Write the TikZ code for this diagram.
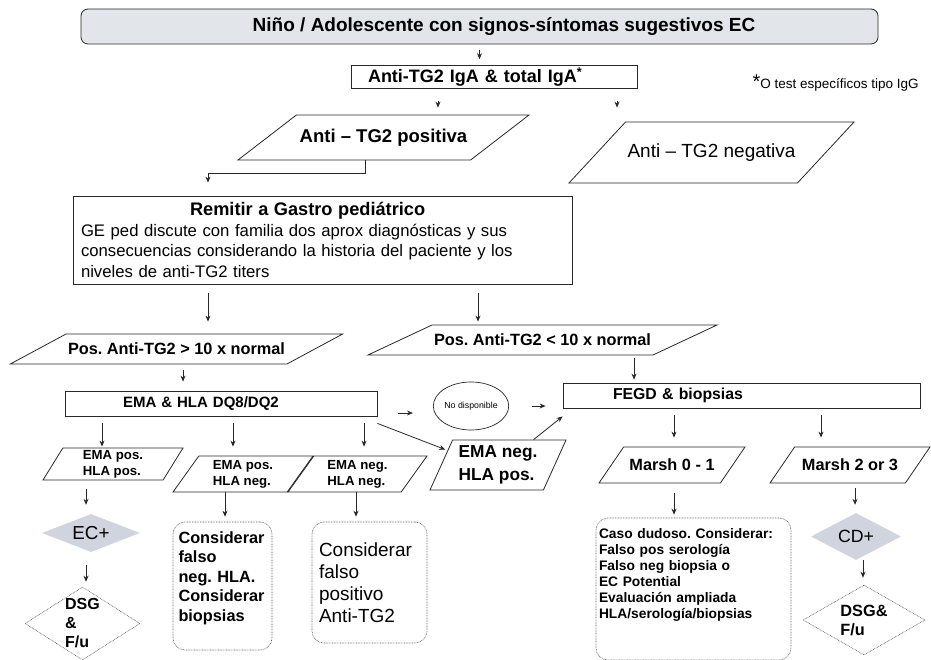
\documentclass[tikz,border=0pt]{standalone}
\usepackage{fontspec}
\setmainfont{Liberation Sans}
\usepackage{tikz}
\usetikzlibrary{shapes.geometric, arrows.meta}
\frenchspacing

\definecolor{linea}{RGB}{40,40,40}
\definecolor{fondo}{RGB}{226,229,234}
\definecolor{rombogris}{RGB}{208,212,222}
\definecolor{punto}{RGB}{95,95,95}

\newcommand{\tam}[2]{\fontsize{#1}{#2}\selectfont}

\tikzset{
  caja/.style={draw=linea, line width=0.8pt, inner sep=2pt},
  cajasup/.style={caja, rounded corners=7pt, fill=fondo},
  paralelo/.style={draw=linea, line width=0.8pt, trapezium, trapezium stretches body, inner sep=2pt},
  puntos/.style={draw=punto, line width=0.6pt, dash pattern=on 0.8pt off 0.8pt},
  punteada/.style={puntos, rounded corners=12pt},
  rombo/.style={diamond, inner sep=3pt},
  flecha/.style={draw=linea, line width=0.8pt, -{Stealth[length=6pt,width=5pt]}},
}

\begin{document}
\begin{tikzpicture}[x=1pt, y=-1pt]
    \useasboundingbox (0,0) rectangle (931,660);

    % Inicio y primera serologia
    \node[cajasup, minimum width=797pt, minimum height=35pt,
          label={[font=\tam{19}{22}\bfseries, xshift=24.5pt]center:Niño / Adolescente con signos-síntomas sugestivos EC}]
          (inicio) at (479.5,26.5) {};
    \node[caja, minimum width=286pt, minimum height=22pt, text width=252pt, inner xsep=17pt,
          align=left, font=\tam{18}{20}\bfseries] (iga) at (494,77) {Anti-TG2 IgA \& total IgA\textsuperscript{*}};
    \node[anchor=west, font=\tam{13.5}{16}] (nota) at (749,83) {{\tam{20}{20}*}O test específicos tipo IgG};

    \node[paralelo, trapezium left angle=20, trapezium right angle=160, minimum width=291pt,
          minimum height=45pt, font=\tam{18.5}{20}\bfseries] (positiva) at (383.5,137.5) {Anti – TG2 positiva};
    \node[paralelo, trapezium left angle=21, trapezium right angle=159, minimum width=275pt,
          minimum height=61pt, font=\tam{19}{20}] (negativa) at (711.5,152.5) {Anti – TG2 negativa};

    \draw[flecha, shorten <=6pt, shorten >=6pt] (inicio.south) -- (inicio.south |- iga.north);
    \draw[flecha, shorten <=12pt, shorten >=7pt] ([xshift=-56pt]iga.south) -- ([xshift=-56pt]iga.south |- positiva.north);
    \draw[flecha, shorten <=12pt, shorten >=14pt] ([xshift=123pt]iga.south) -- ([xshift=123pt]iga.south |- negativa.north);

    % Gastro pediatrico
    \node[caja, minimum width=499pt, minimum height=88pt, text width=483pt, inner xsep=8pt,
          align=left, font=\tam{16.7}{20.5}] (remitir) at (322.5,240)
          {\hspace*{109pt}{\tam{18.2}{20.5}\bfseries Remitir a Gastro pediátrico}\\
           GE ped discute con familia dos aprox diagnósticas y sus\\
           consecuencias considerando la historia del paciente y los\\
           niveles de anti-TG2 titers};
    \draw[flecha, shorten >=13pt] ([xshift=-18.5pt]positiva.south) -- ++(0,13) -| ([xshift=-114.5pt]remitir.north);

    \node[paralelo, trapezium left angle=16, trapezium right angle=164, minimum width=329pt,
          minimum height=30pt, font=\tam{16.3}{18}\bfseries] (posmas) at (176.5,349) {Pos. Anti-TG2 > 10 x normal};
    \node[paralelo, trapezium left angle=14, trapezium right angle=166, minimum width=345pt,
          minimum height=30pt, font=\tam{16.3}{18}\bfseries] (posmenos) at (542.5,340) {Pos. Anti-TG2 < 10 x normal};
    \draw[flecha, shorten <=9pt, shorten >=12pt] ([xshift=-114.5pt]remitir.south) -- ([xshift=-114.5pt]remitir.south |- posmas.north);
    \draw[flecha, shorten <=9pt, shorten >=3pt] ([xshift=155.5pt]remitir.south) -- ([xshift=155.5pt]remitir.south |- posmenos.north);

    % EMA y HLA
    \node[caja, minimum width=312pt, minimum height=25pt, text width=196pt, inner xsep=58pt,
          align=left, font=\tam{15}{17}\bfseries] (ema) at (221,403.5) {EMA \& HLA DQ8/DQ2};
    \node[draw=linea, ellipse, line width=0.7pt, minimum width=75pt, minimum height=48pt,
          inner sep=0pt, font=\tam{8.8}{10}] (nodisp) at (471,406) {No disponible};
    \node[caja, minimum width=357pt, minimum height=25pt, text width=257pt, inner xsep=50pt,
          align=left, font=\tam{15.8}{17}\bfseries] (fegd) at (741.5,395.5) {FEGD \& biopsias};
    \draw[flecha, shorten <=6pt, shorten >=9pt] ([xshift=6.5pt]posmas.south) -- ([xshift=6.5pt]posmas.south |- ema.north);
    \draw[flecha, shorten <=3pt, shorten >=3pt] ([xshift=91.5pt]posmenos.south) -- ([xshift=91.5pt]posmenos.south |- fegd.north);
    \draw[flecha, shorten <=21pt, shorten >=20pt] ([yshift=-9.5pt]ema.east) -- ([yshift=-9.5pt]ema.east -| nodisp.west);
    \draw[flecha, shorten <=23pt, shorten >=17pt] (nodisp.east) -- (nodisp.east -| fegd.west);

    \node[paralelo, trapezium left angle=58, trapezium right angle=122, minimum width=140pt,
          minimum height=32pt, align=left, font=\tam{13.2}{16}\bfseries] (empp) at (113,464) {EMA pos.\\HLA pos.};
    \node[paralelo, trapezium left angle=51, trapezium right angle=129, minimum width=140pt,
          minimum height=36pt, align=left, font=\tam{13.2}{16}\bfseries] (epn) at (243,474) {EMA pos.\\HLA neg.};
    \node[paralelo, trapezium left angle=51, trapezium right angle=129, minimum width=139pt,
          minimum height=36pt, align=left, font=\tam{13.2}{16}\bfseries] (enn) at (357.5,474) {EMA neg.\\HLA neg.};
    \node[paralelo, trapezium left angle=62, trapezium right angle=118, minimum width=136pt,
          minimum height=50pt, align=left, font=\tam{17.3}{23}\bfseries] (enp) at (498,465) {EMA neg.\\HLA pos.};
    \draw[flecha, shorten <=7pt, shorten >=1pt] ([xshift=-119pt]ema.south) -- ([xshift=-119pt]ema.south |- empp.north);
    \draw[flecha, shorten <=7pt, shorten >=9pt] ([xshift=12pt]ema.south) -- ([xshift=12pt]ema.south |- epn.north);
    \draw[flecha, shorten <=7pt, shorten >=9pt] ([xshift=143pt]ema.south) -- ([xshift=143pt]ema.south |- enn.north);
    \draw[flecha] ([yshift=-7pt]ema.south east) -- ([xshift=-7pt, yshift=-10pt]enp.top left corner);
    \draw[flecha] ([xshift=-33pt]enp.top right corner) -- ([yshift=-8pt]fegd.south west);

    % Biopsias
    \node[paralelo, trapezium left angle=33, trapezium right angle=147, minimum width=146pt,
          minimum height=36pt, font=\tam{16.3}{18}\bfseries] (marsh01) at (672,465) {Marsh 0 - 1};
    \node[paralelo, trapezium left angle=33, trapezium right angle=147, minimum width=160pt,
          minimum height=36pt, font=\tam{16.3}{18}\bfseries] (marsh23) at (850,465) {Marsh 2 or 3};
    \draw[flecha, shorten <=7pt, shorten >=9pt] ([xshift=-67.5pt]fegd.south) -- ([xshift=-67.5pt]fegd.south |- marsh01.north);
    \draw[flecha, shorten <=7pt, shorten >=9pt] ([xshift=79.5pt]fegd.south) -- ([xshift=79.5pt]fegd.south |- marsh23.north);

    % Resultados finales
    \node[rombo, fill=rombogris, aspect=2.6, minimum width=98pt, minimum height=38pt,
          font=\tam{18.8}{20}] (ecmas) at (91,533) {EC+};
    \node[rombo, puntos, minimum width=115pt, minimum height=73pt, inner sep=0pt,
          label={[font=\tam{16}{19}\bfseries, align=left]center:{DSG\\\&\\F/u}}] (dsga) at (82.5,623.5) {};
    \draw[flecha, shorten <=9pt, shorten >=9pt] ([xshift=-27pt]empp.south) -- ([xshift=-27pt]empp.south |- ecmas.north);
    \draw[flecha, shorten <=13pt, shorten >=5pt] ([xshift=-5pt]ecmas.south) -- ([xshift=-5pt]ecmas.south |- dsga.north);

    \node[punteada, minimum width=99pt, minimum height=128pt, text width=88pt, inner xsep=5.5pt,
          align=left, font=\tam{16.3}{19.5}\bfseries] (consneg) at (222.5,586)
          {Considerar\\falso\\neg. HLA.\\Considerar\\biopsias\\\mbox{}};
    \node[punteada, minimum width=115pt, minimum height=121pt, text width=101pt, inner xsep=7pt,
          align=left, font=\tam{19}{22}] (conspos) at (369.5,582.5)
          {Considerar\\falso\\positivo\\Anti-TG2};
    \draw[flecha, shorten >=5pt] ([xshift=-18pt]epn.south) -- ([xshift=-18pt]epn.south |- consneg.north);
    \draw[flecha, shorten >=5pt] ([xshift=-1.5pt]enn.south) -- ([xshift=-1.5pt]enn.south |- conspos.north);

    \node[punteada, minimum width=195pt, minimum height=142pt, text width=189pt, inner xsep=3pt,
          align=left, font=\tam{13.8}{16}\bfseries] (caso) at (693.5,589)
          {Caso dudoso. Considerar:\\Falso pos serología\\Falso neg biopsia o\\EC Potential\\
           Evaluación ampliada\\HLA/serología/biopsias\\\mbox{}\\\mbox{}};
    \draw[flecha, shorten <=10pt, shorten >=3pt] ([xshift=2pt]marsh01.south) -- ([xshift=2pt]marsh01.south |- caso.north);

    \node[rombo, fill=rombogris, aspect=1.9, minimum width=90pt, minimum height=47pt,
          font=\tam{17.7}{20}] (cdmas) at (856,536.5) {CD+};
    \node[rombo, puntos, minimum width=122pt, minimum height=70pt, inner sep=0pt,
          label={[font=\tam{16.3}{19}\bfseries, align=left]center:{DSG\&\\F/u}}] (dsgb) at (864,620) {};
    \draw[flecha, shorten <=5pt, shorten >=8pt] ([xshift=5pt]marsh23.south) -- ([xshift=5pt]marsh23.south |- cdmas.north);
    \draw[flecha, shorten >=7pt] ([xshift=7pt]cdmas.south) -- ([xshift=7pt]cdmas.south |- dsgb.north);
\end{tikzpicture}
\end{document}
